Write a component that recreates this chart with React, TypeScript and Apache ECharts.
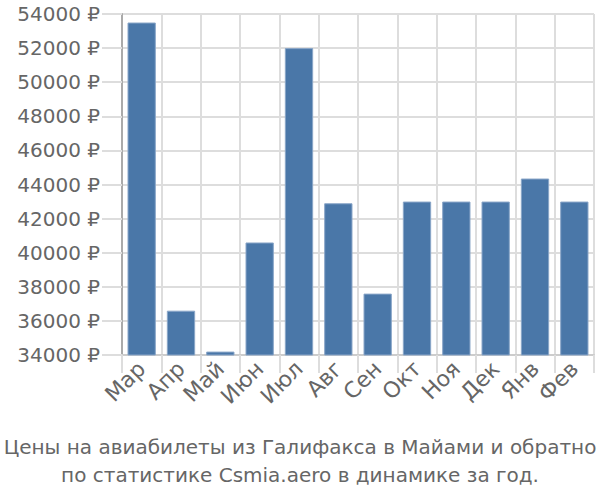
import React, { useEffect, useRef } from "react";
import * as echarts from "echarts";

const months = ["Мар", "Апр", "Май", "Июн", "Июл", "Авг", "Сен", "Окт", "Ноя", "Дек", "Янв", "Фев"];
const prices = [53500, 36600, 34200, 40600, 52000, 42900, 37600, 43000, 43000, 43000, 44350, 43000];
const yTicks = { min: 34000, max: 54000, interval: 2000 };
const titleLines = [
  "Цены на авиабилеты из Галифакса в Майами и обратно",
  "по статистике Csmia.aero в динамике за год.",
];

const FONT = "DejaVu Sans";

export default function App() {
  const ref = useRef<HTMLDivElement>(null);
  useEffect(() => {
    document.body.style.margin = "0";
    const chart = echarts.init(ref.current!, null, { renderer: "svg" });
    chart.setOption({
      animation: false,
      title: {
        text: titleLines.join("\n"),
        left: "center",
        top: 428,
        textStyle: {
          fontFamily: FONT,
          fontSize: 20,
          fontWeight: "normal",
          color: "#666",
          lineHeight: 28,
        },
      },
      grid: { left: 122, right: 6, top: 14, bottom: 145 },
      xAxis: {
        type: "category",
        data: months,
        axisLine: { show: true, lineStyle: { color: "#ccc", width: 2 } },
        axisTick: { show: true, length: 18, interval: 0, lineStyle: { color: "#ddd", width: 2 } },
        splitLine: { show: true, interval: 0, lineStyle: { color: "#ddd", width: 2 } },
        axisLabel: {
          rotate: 45,
          interval: 0,
          margin: 10,
          fontFamily: FONT,
          fontSize: 22,
          color: "#666",
        },
      },
      yAxis: {
        type: "value",
        min: yTicks.min,
        max: yTicks.max,
        interval: yTicks.interval,
        axisLine: { show: true, lineStyle: { color: "#aaa", width: 2 } },
        axisTick: { show: true, length: 20, lineStyle: { color: "#ddd", width: 2 } },
        splitLine: { show: true, lineStyle: { color: "#ddd", width: 2 } },
        axisLabel: {
          margin: 22,
          fontFamily: FONT,
          fontSize: 20,
          color: "#666",
          formatter: (v: number) => `${v} ₽`,
        },
      },
      series: [
        {
          type: "bar",
          data: prices,
          barCategoryGap: "28%",
          itemStyle: { color: "#4a77a8", borderColor: "#8aa6c8", borderWidth: 1 },
        },
      ],
    });
    return () => chart.dispose();
  }, []);
  return <div ref={ref} style={{ width: 600, height: 500 }} />;
}
